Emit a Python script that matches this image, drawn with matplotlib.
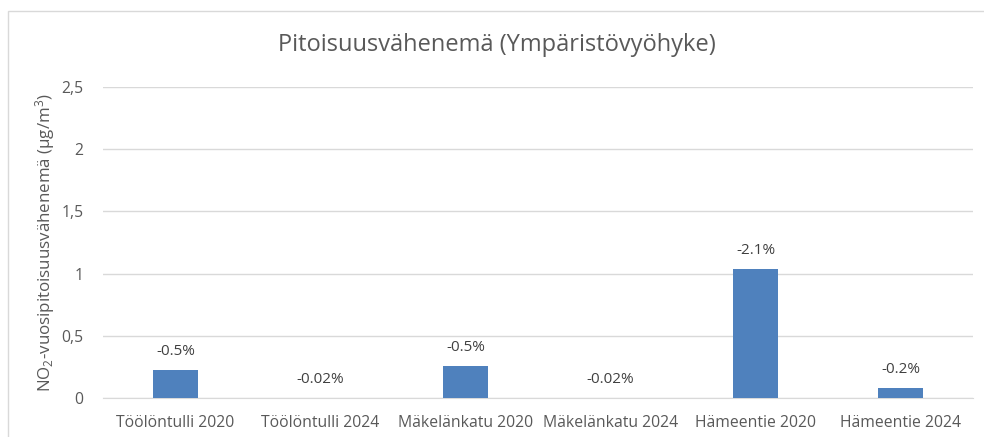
import matplotlib
matplotlib.use("Agg")
import matplotlib.pyplot as plt
from matplotlib.patches import Rectangle
from matplotlib.ticker import FuncFormatter

categories = ["Töölöntulli 2020", "Töölöntulli 2024", "Mäkelänkatu 2020",
              "Mäkelänkatu 2024", "Hämeentie 2020", "Hämeentie 2024"]
values = [0.225, 0.002, 0.257, 0.002, 1.037, 0.08]
labels = ["-0.5%", "-0.02%", "-0.5%", "-0.02%", "-2.1%", "-0.2%"]
yticks = [0, 0.5, 1, 1.5, 2, 2.5]

FONT = "Open Sans"
plt.rcParams['font.family'] = [FONT, 'DejaVu Sans']
plt.rcParams['mathtext.fontset'] = 'custom'
plt.rcParams['mathtext.rm'] = FONT
plt.rcParams['mathtext.it'] = FONT
plt.rcParams['mathtext.bf'] = FONT

txt = "#595959"
fig = plt.figure(figsize=(9.84, 4.37), dpi=100)
fig.patches.append(Rectangle((0.008, -0.01), 1.2, 0.985, transform=fig.transFigure,
                             fill=False, edgecolor="#D9D9D9", linewidth=1))
ax = fig.add_axes([0.1047, 0.0892, 0.8841, 0.7118])

x = list(range(len(categories)))
bars = ax.bar(x, values, width=0.31, color="#4F81BD", zorder=3)
for xi, v, lab in zip(x, values, labels):
    ax.annotate(lab, (xi, v), xytext=(0, 8), textcoords="offset points",
                ha="center", va="bottom", fontsize=11, color="#404040")

ax.set_xlim(-0.5, len(categories) - 0.5)
ax.set_ylim(0, 2.5)
ax.set_yticks(yticks)
ax.yaxis.set_major_formatter(FuncFormatter(lambda v, p: f"{v:g}".replace(".", ",")))
ax.set_xticks(x)
ax.set_xticklabels(categories)
ax.tick_params(axis="both", length=0, labelsize=11.3, colors=txt)
ax.tick_params(axis="y", pad=14)
ax.tick_params(axis="x", pad=12)
ax.grid(axis="y", color="#D9D9D9", linewidth=1, zorder=0)
for s in ["top", "right", "left"]:
    ax.spines[s].set_visible(False)
ax.spines["bottom"].set_color("#D9D9D9")
ax.set_ylabel("NO$_2$-vuosipitoisuusvähenemä (µg/m$^3$)", fontsize=12.2, color=txt)
ax.yaxis.set_label_coords(-0.053, 0.5)
fig.text(0.505, 0.897, "Pitoisuusvähenemä (Ympäristövyöhyke)", ha="center", va="center",
         fontsize=17, color=txt)

fig.savefig("out.png", dpi=100)
